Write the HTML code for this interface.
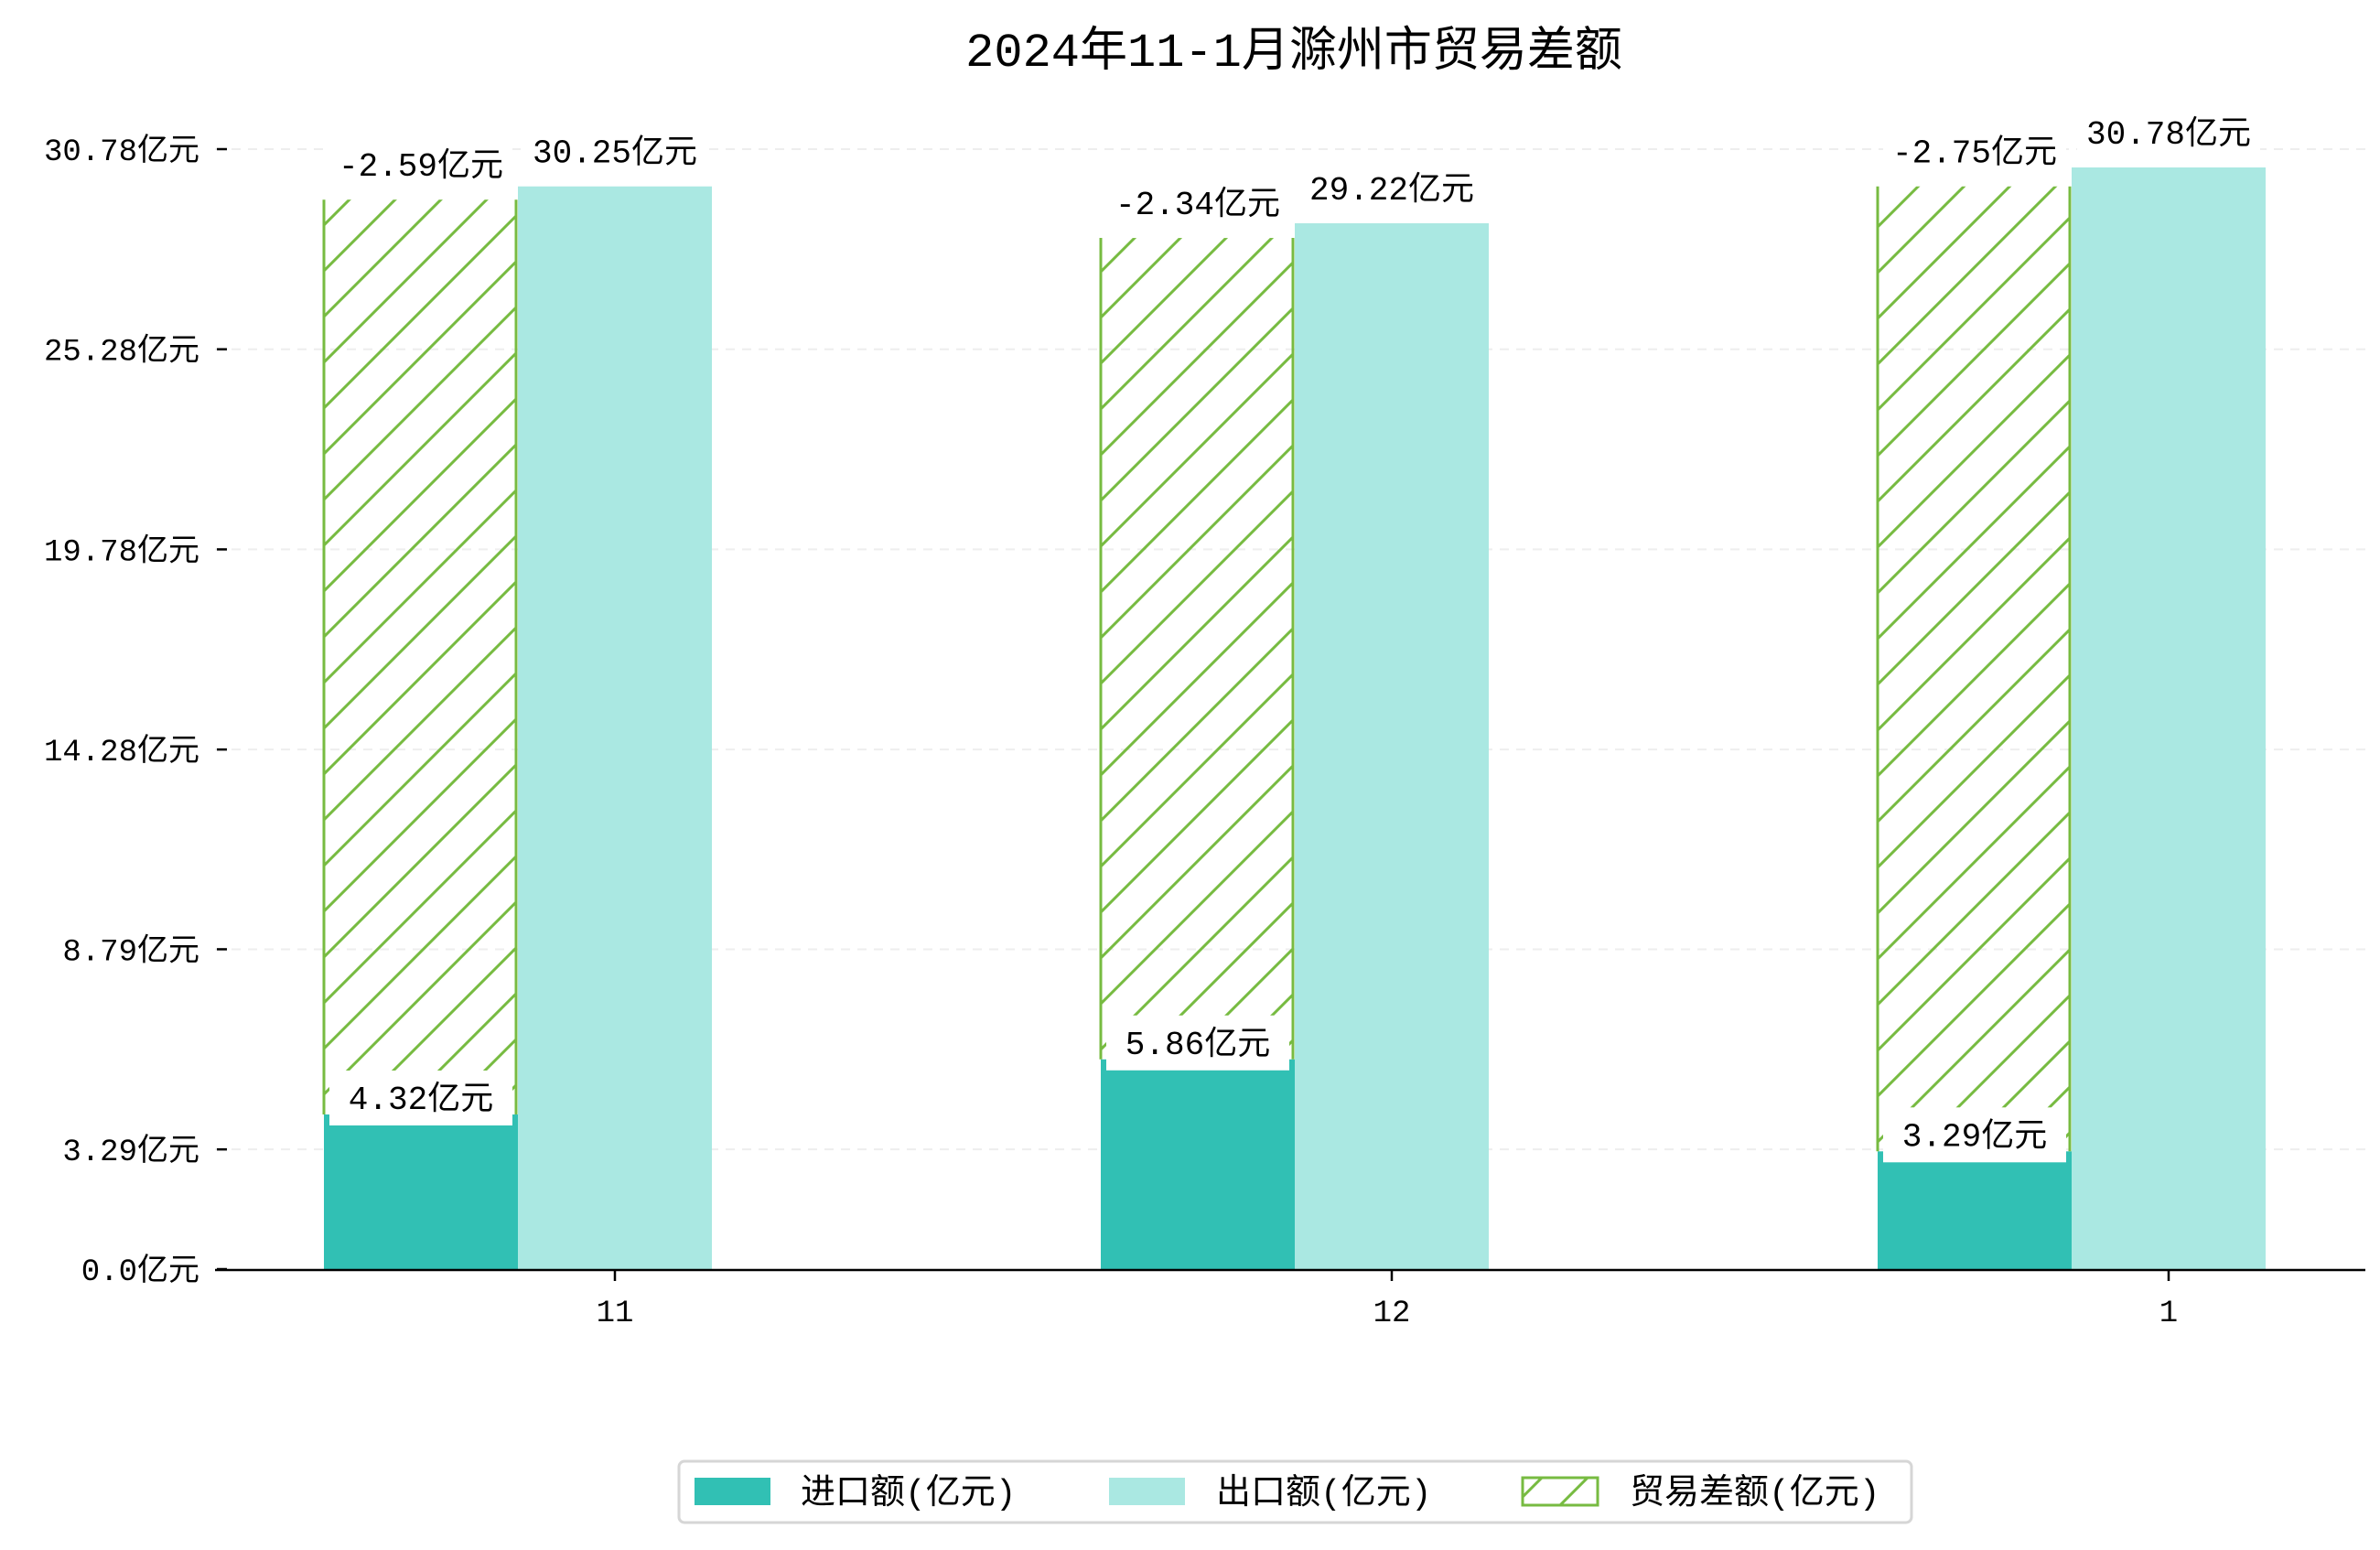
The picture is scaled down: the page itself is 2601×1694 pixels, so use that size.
<!DOCTYPE html>
<html><head><meta charset="utf-8"><style>
body{margin:0;background:#fff;}
svg text{font-family:"Liberation Mono","Noto Sans CJK SC",monospace;}
</style></head><body>
<svg id="chart" width="2601" height="1689" viewBox="0 0 2601 1689" xmlns="http://www.w3.org/2000/svg">
<defs>
<pattern id="hatch" patternUnits="userSpaceOnUse" width="50" height="50">
<path d="M-10,10 L10,-10 M0,50 L50,0 M40,60 L60,40" stroke="#77bb41" stroke-width="3"/>
</pattern>
</defs>
<text x="1414" y="72" text-anchor="middle" font-size="52" fill="#000">2024年11-1月滁州市贸易差额</text>
<g id="grid"></g><g id="bars"></g><g id="labels"></g>
<line x1="235" y1="1388" x2="2585" y2="1388" stroke="#000" stroke-width="2.5"/>
<g id="xticks"></g>
<g>
<rect x="742" y="1597" width="1347" height="67" rx="6" fill="#fff" stroke="#d6d6d6" stroke-width="3"/>
<rect x="759" y="1615" width="83" height="30" fill="#31c0b4"/>
<text x="875" y="1643" font-size="38">进口额(亿元)</text>
<rect x="1212" y="1615" width="83" height="30" fill="#aae8e2"/>
<text x="1329" y="1643" font-size="38">出口额(亿元)</text>
<rect x="1664" y="1615" width="82" height="30" fill="url(#hatch)" stroke="#77bb41" stroke-width="3"/>
<text x="1781" y="1643" font-size="38">贸易差额(亿元)</text>
</g>
</svg>
<script>
const categories = ['11', '12', '1'];
const importValues = [4.32, 5.86, 3.29];
const exportValues = [30.25, 29.22, 30.78];
const balanceValues = [-2.59, -2.34, -2.75];
const hatchTopValues = [29.88, 28.81, 30.25];
const tickValues = [0, 3.29, 8.79, 14.28, 19.78, 25.28, 30.78];
const tickLabels = ['0.0亿元', '3.29亿元', '8.79亿元', '14.28亿元', '19.78亿元', '25.28亿元', '30.78亿元'];

const NS = 'http://www.w3.org/2000/svg';
const y0 = 1387;
const yBar = v => y0 - v * (1387 - 183) / 30.78;
const yTick = v => y0 - v * (1387 - 163) / 30.78;
const xCenter = i => 672 + i * 849;
const W = 212;
function mk(tag, attrs, parent, txt) {
  const e = document.createElementNS(NS, tag);
  for (const k in attrs) e.setAttribute(k, attrs[k]);
  if (txt !== undefined) e.textContent = txt;
  document.getElementById(parent).appendChild(e);
  return e;
}
tickValues.forEach((v, i) => {
  const y = yTick(v);
  if (i > 0) {
    const g = mk('line', {x1: 235, x2: 2585, y1: y, y2: y, stroke: '#eeeeee', 'stroke-width': 2, 'stroke-dasharray': '10,8'}, 'grid');
    
    
  }
  const t = mk('line', {x1: 237, x2: 248, y1: y, y2: y, stroke: '#000', 'stroke-width': 2.5}, 'grid');
  
  
  const l = mk('text', {x: 218, y: y + 12, 'text-anchor': 'end', 'font-size': 34}, 'grid', tickLabels[i]);
  
  
});
function label(cx, cy, txt, name) {
  const b = mk('rect', {x: cx - 100, y: cy - 30, width: 200, height: 60, fill: '#fff'}, 'labels');
  
  
  const t = mk('text', {x: cx, y: cy + 12, 'text-anchor': 'middle', 'font-size': 36}, 'labels', txt);
  
  
}
categories.forEach((c, i) => {
  const cx = xCenter(i);
  const lx = cx - 1.5 * W, rx = cx - 0.5 * W;
  const imp = mk('rect', {x: lx, y: yBar(importValues[i]), width: W, height: y0 - yBar(importValues[i]), fill: '#31c0b4'}, 'bars');
  
  
  const ex = mk('rect', {x: rx, y: yBar(exportValues[i]), width: W, height: y0 - yBar(exportValues[i]), fill: '#aae8e2'}, 'bars');
  
  
  const ht = yBar(hatchTopValues[i]), hb = yBar(importValues[i]);
  const hb2 = mk('rect', {x: lx, y: ht, width: W - 2, height: hb - ht, fill: 'url(#hatch)'}, 'bars');
  
  
  const e1 = mk('line', {x1: lx, x2: lx, y1: ht, y2: hb, stroke: '#77bb41', 'stroke-width': 3}, 'bars');
  
  
  const e2 = mk('line', {x1: lx + W - 2, x2: lx + W - 2, y1: ht, y2: hb, stroke: '#77bb41', 'stroke-width': 3}, 'bars');
  
  
  label(cx - W, ht - 38, balanceValues[i] + '亿元', 'balance-label-' + c);
  label(cx, yBar(exportValues[i]) - 38, exportValues[i].toFixed(2) + '亿元', 'export-label-' + c);
  label(cx - W, yBar(importValues[i]) - 18, importValues[i].toFixed(2) + '亿元', 'import-label-' + c);
  const tk = mk('line', {x1: cx, x2: cx, y1: 1388, y2: 1400, stroke: '#000', 'stroke-width': 2.5}, 'xticks');
  
  
  const tl = mk('text', {x: cx, y: 1444, 'text-anchor': 'middle', 'font-size': 34}, 'xticks', c);
  
  
});
</script>
</body></html>
